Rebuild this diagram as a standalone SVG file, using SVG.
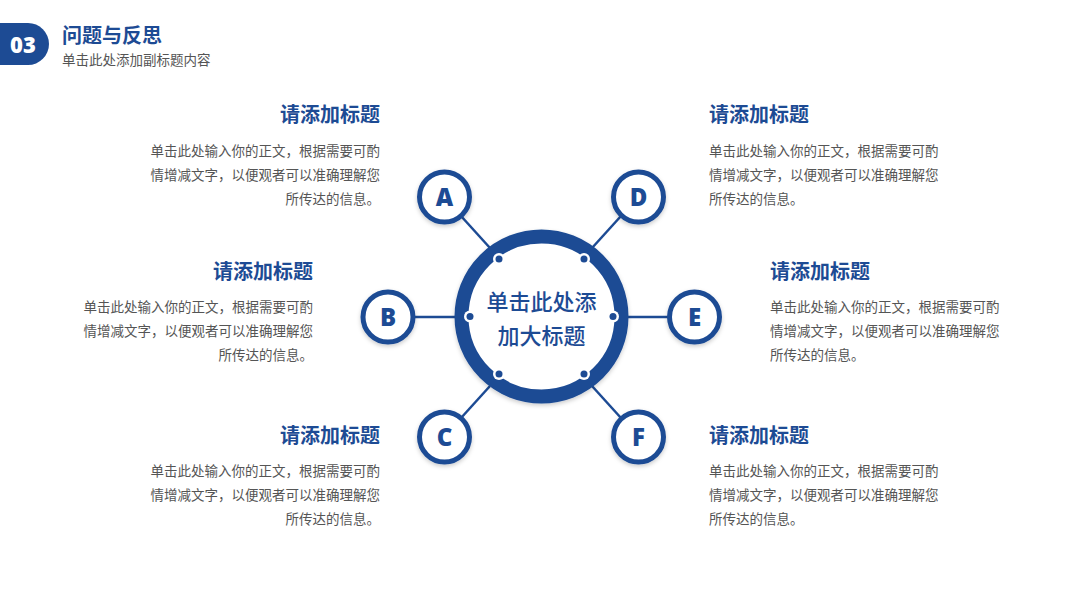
<svg xmlns="http://www.w3.org/2000/svg" width="1080" height="607" viewBox="0 0 1080 607">
<defs>
<style>
.blue{fill:#1d4b94}
.ttl{font-family:"Noto Sans CJK SC","Noto Sans",sans-serif;font-weight:bold;font-size:20px;fill:#1d4b94}
.body{font-family:"Noto Sans CJK SC","Noto Sans",sans-serif;font-size:13.5px;fill:#555555}
.sub{font-family:"Noto Sans CJK SC","Noto Sans",sans-serif;font-size:13.5px;fill:#555555}
.letter{font-family:"Open Sans","Liberation Sans",sans-serif;font-weight:800;font-size:24px;fill:#1d4b94}
.small{fill:#ffffff;stroke:#1d4b94;stroke-width:5}
.link{stroke:#1d4b94;stroke-width:2.5;fill:none}
.dotw{fill:#ffffff}
.dotb{fill:#1d4b94}
.ctr{font-family:"Noto Sans CJK SC",sans-serif;font-weight:500;font-size:22px;fill:#1d4b94}
</style>
<filter id="sh" x="-20%" y="-20%" width="140%" height="140%">
<feDropShadow dx="0" dy="2" stdDeviation="2" flood-color="#000" flood-opacity="0.2"/>
</filter>
</defs>
<rect width="1080" height="607" fill="#ffffff"/>

<g id="header">
<path d="M0,23 H28 A21,21 0 0 1 28,65 H0 Z" class="blue"/>
<text x="23" y="53" text-anchor="middle" font-family="Open Sans, Liberation Sans, sans-serif" font-weight="800" font-size="22" fill="#ffffff">03</text>
<text x="62" y="43" class="ttl">问题与反思</text>
<text x="62" y="65" class="sub">单击此处添加副标题内容</text>
</g>

<g id="connectors">
<line x1="461" y1="216" x2="490" y2="248" class="link"/>
<line x1="621" y1="216" x2="592" y2="248" class="link"/>
<line x1="414" y1="317" x2="456" y2="317" class="link"/>
<line x1="627" y1="317" x2="668" y2="317" class="link"/>
<line x1="461" y1="418" x2="490" y2="386" class="link"/>
<line x1="621" y1="418" x2="592" y2="386" class="link"/>
</g>

<g id="center">
<circle cx="541.5" cy="316.5" r="80" fill="#ffffff" stroke="#1d4b94" stroke-width="14" filter="url(#sh)"/>
<circle cx="499" cy="259" r="6" class="dotw"/><circle cx="499" cy="259" r="3.5" class="dotb"/>
<circle cx="584" cy="259" r="6" class="dotw"/><circle cx="584" cy="259" r="3.5" class="dotb"/>
<circle cx="470" cy="316.5" r="6" class="dotw"/><circle cx="470" cy="316.5" r="3.5" class="dotb"/>
<circle cx="613" cy="316.5" r="6" class="dotw"/><circle cx="613" cy="316.5" r="3.5" class="dotb"/>
<circle cx="499" cy="374" r="6" class="dotw"/><circle cx="499" cy="374" r="3.5" class="dotb"/>
<circle cx="584" cy="374" r="6" class="dotw"/><circle cx="584" cy="374" r="3.5" class="dotb"/>
<text x="541.5" y="310" text-anchor="middle" class="ctr">单击此处添</text>
<text x="541.5" y="344" text-anchor="middle" class="ctr">加大标题</text>
</g>

<g id="nodeA"><circle cx="444.5" cy="197" r="25" class="small" filter="url(#sh)"/><text x="444.5" y="205.5" text-anchor="middle" class="letter">A</text></g>
<g id="nodeB"><circle cx="388" cy="317" r="25" class="small" filter="url(#sh)"/><text x="388" y="325.5" text-anchor="middle" class="letter">B</text></g>
<g id="nodeC"><circle cx="444.5" cy="437" r="25" class="small" filter="url(#sh)"/><text x="444.5" y="445.5" text-anchor="middle" class="letter">C</text></g>
<g id="nodeD"><circle cx="638.5" cy="197" r="25" class="small" filter="url(#sh)"/><text x="638.5" y="205.5" text-anchor="middle" class="letter">D</text></g>
<g id="nodeE"><circle cx="694.5" cy="317" r="25" class="small" filter="url(#sh)"/><text x="694.5" y="325.5" text-anchor="middle" class="letter">E</text></g>
<g id="nodeF"><circle cx="638.5" cy="437" r="25" class="small" filter="url(#sh)"/><text x="638.5" y="445.5" text-anchor="middle" class="letter">F</text></g>

<g id="textA" text-anchor="end">
<text x="380" y="122" class="ttl">请添加标题</text>
<text x="380" y="156" class="body">单击此处输入你的正文，根据需要可酌</text>
<text x="380" y="180" class="body">情增减文字，以便观者可以准确理解您</text>
<text x="380" y="204" class="body">所传达的信息。</text>
</g>
<g id="textB" text-anchor="end">
<text x="313" y="279" class="ttl">请添加标题</text>
<text x="313" y="312" class="body">单击此处输入你的正文，根据需要可酌</text>
<text x="313" y="336" class="body">情增减文字，以便观者可以准确理解您</text>
<text x="313" y="360" class="body">所传达的信息。</text>
</g>
<g id="textC" text-anchor="end">
<text x="380" y="443" class="ttl">请添加标题</text>
<text x="380" y="476" class="body">单击此处输入你的正文，根据需要可酌</text>
<text x="380" y="500" class="body">情增减文字，以便观者可以准确理解您</text>
<text x="380" y="524" class="body">所传达的信息。</text>
</g>
<g id="textD">
<text x="709" y="122" class="ttl">请添加标题</text>
<text x="709" y="156" class="body">单击此处输入你的正文，根据需要可酌</text>
<text x="709" y="180" class="body">情增减文字，以便观者可以准确理解您</text>
<text x="709" y="204" class="body">所传达的信息。</text>
</g>
<g id="textE">
<text x="770" y="279" class="ttl">请添加标题</text>
<text x="770" y="312" class="body">单击此处输入你的正文，根据需要可酌</text>
<text x="770" y="336" class="body">情增减文字，以便观者可以准确理解您</text>
<text x="770" y="360" class="body">所传达的信息。</text>
</g>
<g id="textF">
<text x="709" y="443" class="ttl">请添加标题</text>
<text x="709" y="476" class="body">单击此处输入你的正文，根据需要可酌</text>
<text x="709" y="500" class="body">情增减文字，以便观者可以准确理解您</text>
<text x="709" y="524" class="body">所传达的信息。</text>
</g>
</svg>
